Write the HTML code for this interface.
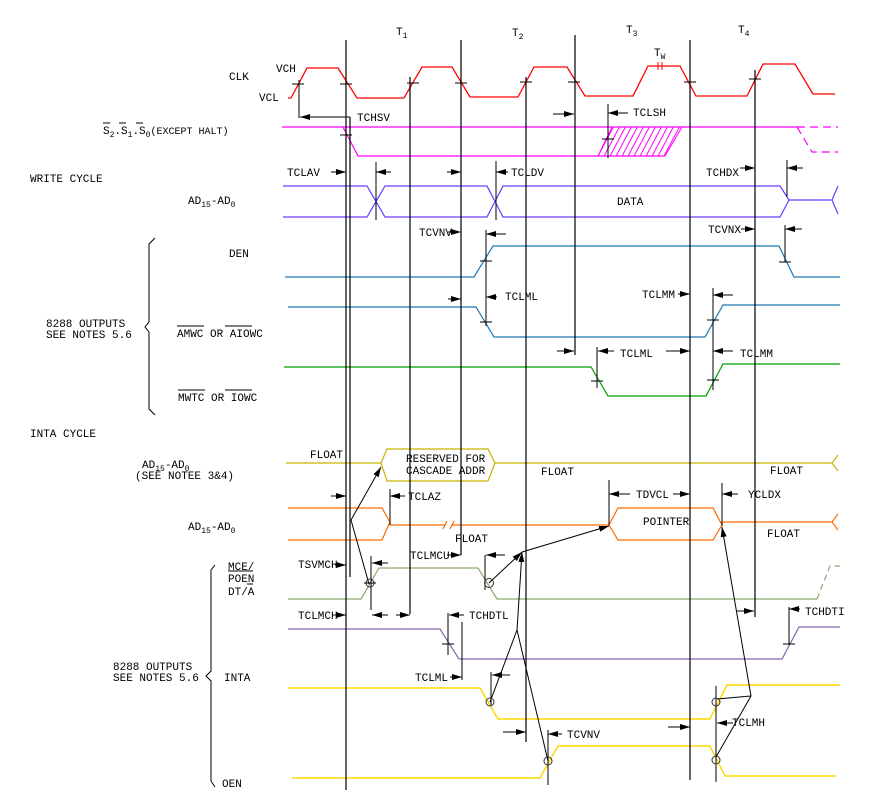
<!DOCTYPE html>
<html><head><meta charset="utf-8"><style>
html,body{margin:0;padding:0;background:#fff}
svg{display:block}
text{font-family:"Liberation Mono",monospace;font-size:11px;fill:#000}
.k{stroke:#000;stroke-width:1.2;fill:none}
.t{stroke:#000;stroke-width:1;fill:none}
</style></head><body>
<svg width="880" height="800" viewBox="0 0 880 800" xmlns="http://www.w3.org/2000/svg">
<defs>
<marker id="a" viewBox="0 0 10 6" refX="10" refY="3" markerWidth="10" markerHeight="6" markerUnits="userSpaceOnUse" orient="auto"><path d="M0,0 L10,3 L0,6 z" fill="#000"/></marker>
<clipPath id="hc"><path d="M598,156 L612,127 L682,127 L665,156 z"/></clipPath>
</defs>

<!-- T labels -->
<text x="396" y="35">T<tspan font-size="8" dy="3">1</tspan></text>
<text x="512" y="36">T<tspan font-size="8" dy="3">2</tspan></text>
<text x="626" y="33">T<tspan font-size="8" dy="3">3</tspan></text>
<text x="738" y="33">T<tspan font-size="8" dy="3">4</tspan></text>
<text x="654" y="56">T<tspan font-size="8" dy="3">W</tspan></text>

<!-- left labels -->
<text x="229" y="80">CLK</text>
<text x="276" y="72">VCH</text>
<text x="259" y="101">VCL</text>
<text x="103" y="134">S<tspan font-size="8" dy="3">2</tspan><tspan dy="-3">.S</tspan><tspan font-size="8" dy="3">1</tspan><tspan dy="-3">.S</tspan><tspan font-size="8" dy="3">0</tspan><tspan dy="-3" font-size="10">(EXCEPT HALT)</tspan></text>
<path class="t" d="M103,123h7M119,123h7M136,123h7"/>
<text x="30" y="182">WRITE CYCLE</text>
<text x="188" y="204">AD<tspan font-size="8" dy="3">15</tspan><tspan dy="-3">-AD</tspan><tspan font-size="8" dy="3">0</tspan></text>
<text x="229" y="257">DEN</text>
<text x="46" y="327">8288 OUTPUTS</text>
<text x="46" y="338">SEE NOTES 5.6</text>
<text x="177" y="337">AMWC OR AIOWC</text>
<path class="t" d="M177,326h27M225,326h27"/>
<text x="178" y="401">MWTC OR IOWC</text>
<path class="t" d="M178,390h27M225,390h27"/>
<text x="30" y="437">INTA CYCLE</text>
<text x="142" y="468">AD<tspan font-size="8" dy="3">15</tspan><tspan dy="-3">-AD</tspan><tspan font-size="8" dy="3">0</tspan></text>
<text x="135" y="479" font-size="10">(SEE NOTEE 3&amp;4)</text>
<text x="188" y="530">AD<tspan font-size="8" dy="3">15</tspan><tspan dy="-3">-AD</tspan><tspan font-size="8" dy="3">0</tspan></text>
<text x="228" y="570">MCE/</text>
<text x="228" y="582">POEN</text>
<text x="228" y="595">DT/A</text>
<path class="t" d="M228,571h25M247,584h6"/>
<text x="113" y="670">8288 OUTPUTS</text>
<text x="113" y="681">SEE NOTES 5.6</text>
<text x="224" y="681">INTA</text>
<text x="222" y="787">OEN</text>

<!-- braces -->
<path class="t" d="M155,238 L149,244 L149,322 L145,327 L149,332 L149,409 L155,415"/>
<path class="t" d="M215,565 L211,570 L211,671 L206,676 L211,681 L211,781 L215,787"/>

<!-- CLK -->
<path d="M288,98 L291,98 L307,68 L338,68 L357,98 L404,98 L422,67 L452,67 L470,97 L518,97 L534,67 L567,67 L585,96 L633,96 L648,66 L680,66 L696,96 L747,96 L763,64 L795,64 L813,94 L835,94" fill="none" stroke="#ff0000" stroke-width="1.3"/>
<path d="M658,62v8M662,62v8" stroke="#ff0000" stroke-width="1"/>
<path class="t" d="M292,84h12M340,84h12M407,83h12M455,83h12M520,82h12M568,82h12M684,82h12M749,79h12"/>

<!-- S lines -->
<path d="M282,127 L797,127" stroke="#ff00ff" stroke-width="1.2"/>
<path d="M343,127 L358,156 L665,156" fill="none" stroke="#ff00ff" stroke-width="1.2"/>
<path d="M797,127 L838,127 M797,127 L812,152 L838,152" fill="none" stroke="#ff00ff" stroke-width="1.2" stroke-dasharray="8,5"/>
<g clip-path="url(#hc)" stroke="#ff00ff" stroke-width="1">
<path d="M590,160 L610,122 M596,160 L616,122 M602,160 L622,122 M608,160 L628,122 M614,160 L634,122 M620,160 L640,122 M626,160 L646,122 M632,160 L652,122 M638,160 L658,122 M644,160 L664,122 M650,160 L670,122 M656,160 L676,122 M662,160 L682,122 M668,160 L688,122"/>
</g>
<path d="M598,156 L612,127 M665,156 L682,127" stroke="#ff00ff" stroke-width="1"/>

<!-- AD write -->
<path d="M283,186 L367,186 L385,217 L487,217 L503,186 L780,186 L789,200 L832,200 L838,186 M283,217 L367,217 L385,186 L487,186 L503,217 L780,217 L789,200 M832,200 L838,214" fill="none" stroke="#6a3cff" stroke-width="1.2"/>
<text x="617" y="205">DATA</text>

<!-- DEN -->
<path d="M285,277 L474,277 L493,246 L779,246 L794,277 L840,277" fill="none" stroke="#1f77b4" stroke-width="1.2"/>
<!-- AMWC -->
<path d="M288,307 L476,307 L494,337 L705,337 L723,305 L840,305" fill="none" stroke="#1f77b4" stroke-width="1.2"/>
<!-- MWTC -->
<path d="M284,367 L591,367 L608,396 L706,396 L723,364 L840,364" fill="none" stroke="#00a000" stroke-width="1.2"/>

<!-- INTA AD yellow -->
<path d="M286,463 L381,463 L387,449 L488,449 L495,463 L832,463 L838,455 M381,463 L387,481 L488,481 L495,463 M832,463 L838,471" fill="none" stroke="#c8b400" stroke-width="1.2"/>
<text x="406" y="462" font-size="10">RESERVED FOR</text>
<text x="406" y="474" font-size="10">CASCADE ADDR</text>
<text x="310" y="458">FLOAT</text>
<text x="541" y="475">FLOAT</text>
<text x="770" y="474">FLOAT</text>

<!-- orange -->
<path d="M288,508 L382,508 L390,522 L382,540 L288,540 M390,525 L445,525 M452,525 L609,525 L618,508 L713,508 L722,525 L713,540 L618,540 L609,525 M722,522 L832,522 L838,514 M832,522 L838,530" fill="none" stroke="#ff6a00" stroke-width="1.2"/>
<path d="M443,529 L447,521 M450,529 L454,521" stroke="#ff6a00" stroke-width="1.2"/>
<text x="643" y="525">POINTER</text>
<text x="455" y="542">FLOAT</text>
<text x="767" y="537">FLOAT</text>

<!-- green MCE -->
<path d="M288,599 L361,599 L379,568 L478,568 L497,599 L817,599" fill="none" stroke="#8aaa70" stroke-width="1.2"/>
<path d="M817,599 L830,566 L840,566" fill="none" stroke="#8aaa70" stroke-width="1.2" stroke-dasharray="6,4"/>
<!-- purple -->
<path d="M288,629 L440,629 L459,659 L782,659 L799,627 L840,627" fill="none" stroke="#8866aa" stroke-width="1.2"/>
<!-- INTA yellow -->
<path d="M288,688 L480,688 L498,719 L710,719 L727,685 L840,685" fill="none" stroke="#ffd700" stroke-width="1.4"/>
<path d="M292,778 L540,778 L558,746 L710,746 L725,776 L836,776" fill="none" stroke="#ffd700" stroke-width="1.4"/>

<!-- main verticals -->
<path class="k" d="M346,40V790 M350,117V577 M410,77V614 M461,40V555 M526,77V742 M575,35V355 M690,40V780 M755,70V617"/>
<!-- short verticals -->
<path class="t" d="M299,80V118 M608,104V158 M376,162V220 M496,161V220 M787,160V197 M486,230V326 M785,225V262 M597,347V388 M713,288V390 M390,489V525 M609,480V525 M722,483V526 M371,556V610 M485,555V590 M448,613V655 M462,622V680 M491,672V705 M548,730V785 M716,686V782 M789,607V645"/>
<!-- small ticks on crossings -->
<path class="t" d="M602,139h12M340,135h12M480,261h12M480,322h12M779,262h12M591,381h12M707,320h12M707,380h12M442,644h12M783,644h12"/>

<!-- arrows -->
<g class="t" marker-end="url(#a)">
<path d="M350,117H300"/>
<path d="M553,114H574"/>
<path d="M628,113H608"/>
<path d="M331,172H346"/><path d="M391,172H376"/>
<path d="M447,172H461"/><path d="M508,172H496"/>
<path d="M740,168H755"/><path d="M803,168H787"/>
<path d="M448,232H461"/><path d="M506,234H486"/>
<path d="M741,229H755"/><path d="M802,229H785"/>
<path d="M448,299H461"/><path d="M497,297H486"/>
<path d="M678,294H690"/><path d="M733,295H713"/>
<path d="M557,351H574"/><path d="M614,351H598"/>
<path d="M666,351H690"/><path d="M733,351H713"/>
<path d="M331,496H346"/><path d="M405,496H390"/>
<path d="M630,494H609"/><path d="M673,494H690"/>
<path d="M738,494H722"/>
<path d="M335,565H346"/><path d="M388,563H372"/>
<path d="M447,555H461"/><path d="M505,555H486"/>
<path d="M335,615H346"/><path d="M388,615H372"/><path d="M396,615H410"/>
<path d="M464,615H449"/>
<path d="M450,677H462"/><path d="M510,675H492"/>
<path d="M503,732H526"/><path d="M562,734H548"/>
<path d="M668,727H690"/><path d="M733,723H717"/>
<path d="M736,611H754"/><path d="M800,609H789"/>
<!-- diagonals -->
<path d="M351,520L381,467"/>
<path d="M489,583L522,552"/>
<path d="M522,552L609,526"/>
<path d="M517,630L522,552"/>
<path d="M751,696L722,527"/>
</g>
<path class="t" d="M351,520L369,584 M517,630L490,702 M517,630L548,761 M751,696L717,699 M751,696L716,757"/>
<g fill="none" stroke="#333" stroke-width="1">
<circle cx="370" cy="583" r="4"/><circle cx="489" cy="583" r="4.5"/>
<circle cx="490" cy="702" r="4"/><circle cx="716" cy="702" r="4"/>
<circle cx="548" cy="761" r="4"/><circle cx="716" cy="760" r="4"/>
</g>
<path class="t" d="M364,583h12"/>

<!-- annotation labels -->
<text x="357" y="121">TCHSV</text>
<text x="633" y="116">TCLSH</text>
<text x="287" y="176">TCLAV</text>
<text x="511" y="176">TCLDV</text>
<text x="706" y="176">TCHDX</text>
<text x="419" y="236">TCVNV</text>
<text x="708" y="233">TCVNX</text>
<text x="505" y="300">TCLML</text>
<text x="642" y="298">TCLMM</text>
<text x="620" y="357">TCLML</text>
<text x="740" y="357">TCLMM</text>
<text x="408" y="500">TCLAZ</text>
<text x="636" y="498">TDVCL</text>
<text x="748" y="498">YCLDX</text>
<text x="298" y="568">TSVMCH</text>
<text x="410" y="559">TCLMCU</text>
<text x="298" y="619">TCLMCH</text>
<text x="469" y="619">TCHDTL</text>
<text x="415" y="681">TCLML</text>
<text x="567" y="738">TCVNV</text>
<text x="732" y="726">TCLMH</text>
<text x="805" y="615">TCHDTI</text>
</svg>
</body></html>
